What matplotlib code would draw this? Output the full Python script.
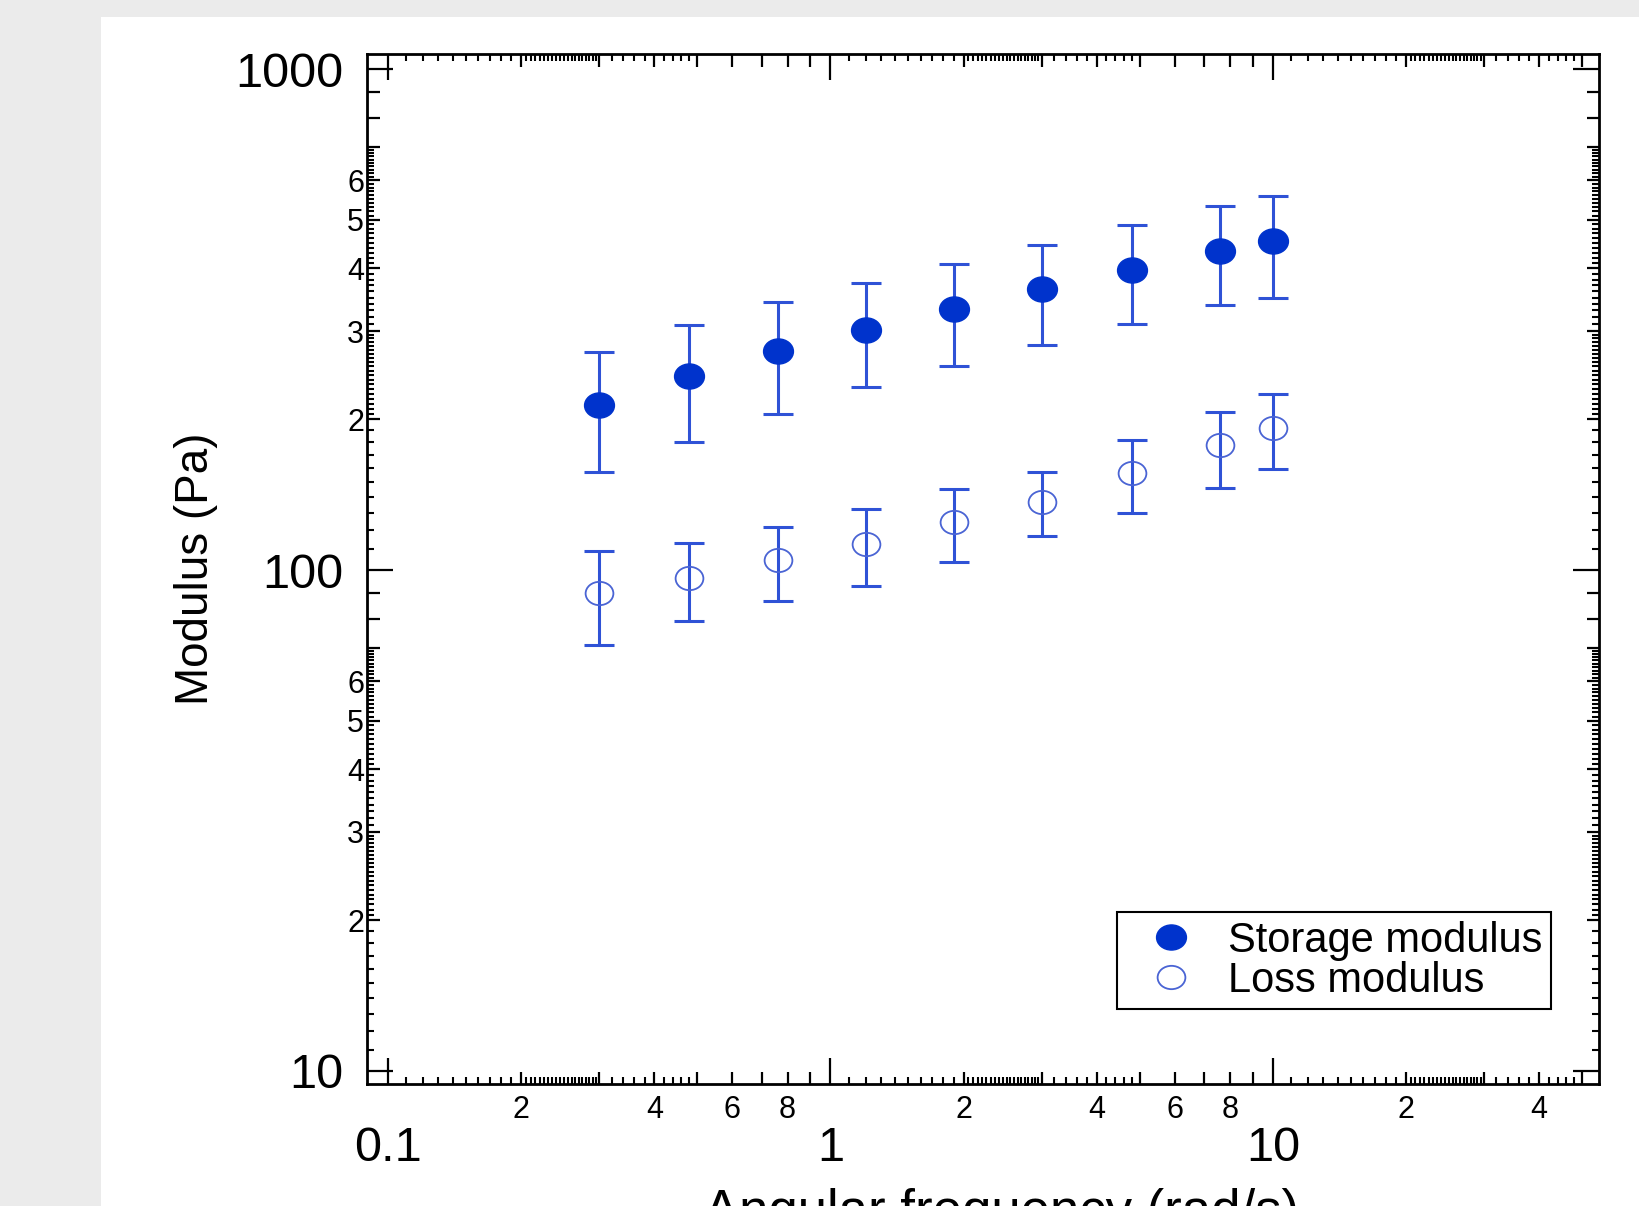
import numpy as np
import matplotlib
matplotlib.use("Agg")
import matplotlib.pyplot as plt
from matplotlib.path import Path
from matplotlib.transforms import Affine2D
from matplotlib.lines import Line2D
from matplotlib.patches import Rectangle

plt.rcParams['font.family'] = ['Liberation Sans', 'DejaVu Sans']

# angular frequency (rad/s)
freq = [0.30, 0.48, 0.76, 1.2, 1.9, 3.0, 4.8, 7.6, 10.0]

# storage modulus G' (Pa) with error bar ends
storage = [214, 244, 274, 302, 332, 364, 398, 434, 453]
storage_lo = [157, 180, 205, 232, 256, 282, 310, 338, 349]
storage_hi = [272, 309, 343, 374, 409, 446, 488, 532, 559]

# loss modulus G'' (Pa) with error bar ends
loss = [90.0, 96.4, 104.5, 112.9, 124.5, 137.0, 156.2, 177.3, 192.0]
loss_lo = [71.0, 79.0, 86.9, 93.0, 103.6, 116.7, 130.1, 146.1, 158.8]
loss_hi = [109.3, 113.5, 121.8, 132.3, 145.3, 156.9, 181.7, 207.2, 224.8]

labels = ['Storage modulus', 'Loss modulus']

fill_col = '#0033cc'
bar_col = '#2f52d6'
open_col = '#4a64d4'

# markers in the source are slightly squashed circles
ell = Path.unit_circle().transformed(Affine2D().scale(1.0, 0.84))

fig = plt.figure(figsize=(16.39, 12.06), dpi=100, facecolor='#ebebeb')
fig.patches.append(Rectangle((0.0616, 0.0), 1.0, 0.9859, transform=fig.transFigure,
                             facecolor='white', edgecolor='none', zorder=-10))
ax = fig.add_axes([0.2239, 0.1012, 0.7517, 0.854])
ax.set_facecolor('none')

s = np.array(storage)
l = np.array(loss)
ax.errorbar(freq, storage, yerr=[s - storage_lo, np.array(storage_hi) - s],
            fmt='none', ecolor=bar_col, elinewidth=2.2, capsize=11, capthick=2.2)
ax.errorbar(freq, loss, yerr=[l - loss_lo, np.array(loss_hi) - l],
            fmt='none', ecolor=bar_col, elinewidth=2.2, capsize=11, capthick=2.2)
ax.plot(freq, storage, ls='none', marker=ell, ms=21.5, color=fill_col, mec=fill_col)
ax.plot(freq, loss, ls='none', marker=ell, ms=20, mfc='none', mec=open_col, mew=1.3)

ax.set_xscale('log')
ax.set_yscale('log')
ax.set_xlim(0.0896, 54.6)
ax.set_ylim(9.42, 1072)

# decade ticks
ax.set_xticks([0.1, 1, 10], labels=['0.1', '1', '10'])
ax.set_yticks([10, 100, 1000], labels=['10', '100', '1000'])

# intermediate ticks, only some labelled
xmin = [k * b for b in (0.1, 1, 10) for k in range(2, 10) if k * b < 54.6]
xmin_lab = [str(k) if k in (2, 4, 6, 8) else ''
            for b in (0.1, 1, 10) for k in range(2, 10) if k * b < 54.6]
ymin = [k * b for b in (10, 100) for k in range(2, 10)]
ymin_lab = [str(k) if k in (2, 3, 4, 5, 6) else '' for b in (10, 100) for k in range(2, 10)]
ax.set_xticks(xmin, labels=xmin_lab, minor=True)
ax.set_yticks(ymin, labels=ymin_lab, minor=True)

ax.tick_params(which='both', direction='in', top=True, right=True, color='black')
ax.tick_params(which='major', length=19, width=1.6, labelsize=35)
ax.tick_params(which='minor', length=9, width=1.6, labelsize=22)
ax.tick_params(axis='x', which='major', pad=30)
ax.tick_params(axis='x', which='minor', pad=8)
ax.tick_params(axis='y', which='major', pad=17)
ax.tick_params(axis='y', which='minor', pad=2)
for sp in ax.spines.values():
    sp.set_linewidth(2.0)

# the fine tick marks of the original axis
def fine(bases, axis):
    out = []
    for b in bases:
        out += [b * (1 + 0.1 * i) for i in range(1, 10)]
        out += [b * (2 + 0.05 * i) for i in range(1, 20)]
        if axis == 'x':
            out += [b * (3 + 0.2 * i) for i in range(1, 5)]
            out += [b * (4 + 0.2 * i) for i in range(1, 5)]
        else:
            out += [b * (3 + 0.1 * i) for i in range(1, 40) if i % 10]
    return np.array(out)

fx = fine((0.1, 1, 10), 'x')
fx = fx[fx < 54.6]
fy = fine((10, 100), 'y')
tk = dict(ls='none', ms=5, mew=1.5, color='black', clip_on=False)
ax.plot(fx, np.zeros_like(fx), marker=2, transform=ax.get_xaxis_transform(), **tk)
ax.plot(fx, np.ones_like(fx), marker=3, transform=ax.get_xaxis_transform(), **tk)
ax.plot(np.zeros_like(fy), fy, marker=1, transform=ax.get_yaxis_transform(), **tk)
ax.plot(np.ones_like(fy), fy, marker=0, transform=ax.get_yaxis_transform(), **tk)

ax.set_xlabel('Angular frequency (rad/s)', fontsize=38)
ax.xaxis.set_label_coords(0.515, -0.101)
ax.set_ylabel('Modulus (Pa)', fontsize=33, va='center')
ax.yaxis.set_label_coords(-0.139, 0.5)

handles = [Line2D([], [], ls='none', marker=ell, ms=21.5, color=fill_col),
           Line2D([], [], ls='none', marker=ell, ms=20, mfc='none', mec=open_col, mew=1.3)]
leg = ax.legend(handles, labels, loc='lower right', bbox_to_anchor=(0.961, 0.0728),
                fontsize=30, frameon=True, fancybox=False, framealpha=1,
                edgecolor='black', borderpad=0.2, labelspacing=0.0,
                handlelength=2.2, handletextpad=0.28, borderaxespad=0)
leg.get_frame().set_linewidth(1.5)

fig.savefig('out.png', dpi=100, facecolor=fig.get_facecolor())
